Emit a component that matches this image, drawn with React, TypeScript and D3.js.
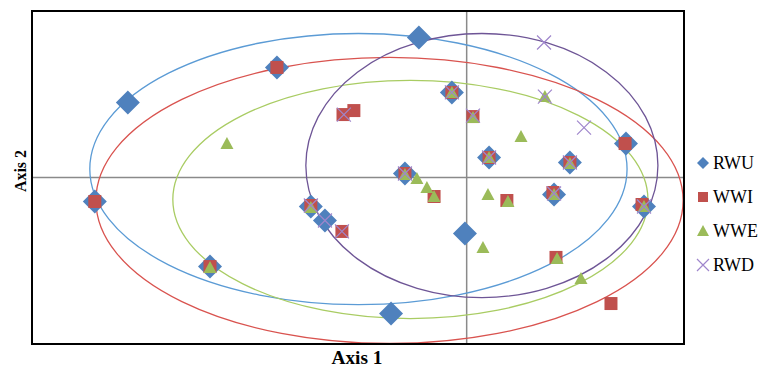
import * as d3 from 'd3';

const W = 772;
const H = 367;

// scores (axis 1, axis 2)
const rwuX = [-0.22, -0.873, -1.559, -0.068, 0.103, -0.284, 0.475, 0.733, -1.711, -0.717, -0.652, -1.181, -0.008, -0.348, 0.402, 0.816];
const rwuY = [0.841, 0.661, 0.45, 0.511, 0.12, 0.024, 0.09, 0.204, -0.144, -0.174, -0.258, -0.535, -0.336, -0.817, -0.102, -0.174];

const wwiX = [-0.873, -0.569, -0.519, -0.068, 0.029, 0.103, -0.284, 0.475, 0.729, -1.711, -0.717, -0.574, -1.181, -0.15, 0.185, 0.397, 0.807, 0.411, 0.664];
const wwiY = [0.661, 0.378, 0.402, 0.511, 0.366, 0.12, 0.024, 0.09, 0.204, -0.144, -0.168, -0.324, -0.535, -0.114, -0.138, -0.09, -0.162, -0.48, -0.757];

const wweX = [-1.103, -0.068, 0.029, 0.36, 0.25, 0.103, 0.475, -0.284, -0.229, -0.183, -0.15, 0.098, 0.19, -0.717, -1.181, 0.075, 0.402, 0.816, 0.416, 0.526];
const wweY = [0.204, 0.511, 0.36, 0.486, 0.246, 0.12, 0.084, 0.018, -0.006, -0.06, -0.114, -0.102, -0.144, -0.18, -0.541, -0.42, -0.102, -0.174, -0.486, -0.607];

const rwdX = [0.356, 0.36, 0.54, -0.565, -0.068, 0.029, 0.103, -0.284, 0.475, -0.717, -0.652, -0.574, 0.402, 0.816];
const rwdY = [0.811, 0.486, 0.3, 0.378, 0.511, 0.372, 0.12, 0.024, 0.09, -0.168, -0.258, -0.324, -0.096, -0.174];

// confidence ellipses: centre x, centre y, radius x, radius y
const ellipseNames = ['RWU', 'WWI', 'WWE', 'RWD'];
const ellipseCx = [-0.498, -0.355, -0.259, 0.07];
const ellipseCy = [0.051, -0.138, -0.132, 0.072];
const ellipseRx = [1.236, 1.351, 1.093, 0.81];
const ellipseRy = [0.814, 0.859, 0.715, 0.793];
const ellipseColors = ['#5B9BD5', '#D9534F', '#A9CC63', '#6E5596'];

const seriesNames = ['RWU', 'WWI', 'WWE', 'RWD'];

const diamond = (r: number) => `M0,${-r}L${r},0L0,${r}L${-r},0Z`;
const square = (r: number) => `M${-r},${-r}H${r}V${r}H${-r}Z`;
const triangle = (r: number) => `M0,${-r}L${r},${r * 0.85}L${-r},${r * 0.85}Z`;
const cross = (r: number) => `M${-r},${-r}L${r},${r}M${r},${-r}L${-r},${r}`;

const markerStyle = [
  { path: diamond, size: 12, legendSize: 6, fill: '#4F81BD', stroke: 'none' },
  { path: square, size: 6.5, legendSize: 5, fill: '#C0504D', stroke: 'none' },
  { path: triangle, size: 6.5, legendSize: 6, fill: '#9BBB59', stroke: 'none' },
  { path: cross, size: 7, legendSize: 6, fill: 'none', stroke: '#9F86CC' },
];

export default function App() {
  const left = 32;
  const right = 684;
  const top = 11;
  const bottom = 344;

  const x = d3.scaleLinear().domain([-2, 1]).range([left, right]);
  const y = d3.scaleLinear().domain([-1, 1]).range([bottom, top]);

  const series = [
    d3.zip(rwuX, rwuY),
    d3.zip(wwiX, wwiY),
    d3.zip(wweX, wweY),
    d3.zip(rwdX, rwdY),
  ];

  return (
    <svg
      width={W}
      height={H}
      style={{ position: 'absolute', left: 0, top: 0, background: '#fff' }}
      fontFamily="'Liberation Serif', 'Times New Roman', serif"
    >
      <defs>
        <clipPath id="plot">
          <rect x={left} y={top} width={right - left} height={bottom - top} />
        </clipPath>
      </defs>

      {/* zero lines */}
      <line x1={left} x2={right} y1={y(0)} y2={y(0)} stroke="#8A8A8A" strokeWidth={1.5} />
      <line x1={x(0)} x2={x(0)} y1={top} y2={bottom} stroke="#8A8A8A" strokeWidth={1.5} />

      {/* ellipses */}
      <g clipPath="url(#plot)">
        {ellipseNames.map((n, i) => (
          <ellipse
            key={n}
            cx={x(ellipseCx[i])}
            cy={y(ellipseCy[i])}
            rx={x(ellipseCx[i] + ellipseRx[i]) - x(ellipseCx[i])}
            ry={y(ellipseCy[i]) - y(ellipseCy[i] + ellipseRy[i])}
            fill="none"
            stroke={ellipseColors[i]}
            strokeWidth={1.3}
          />
        ))}
      </g>

      {/* points */}
      {series.map((pts, si) => (
        <g key={seriesNames[si]}>
          {pts.map(([px, py], j) => (
            <path
              key={j}
              transform={`translate(${x(px)},${y(py)})`}
              d={markerStyle[si].path(markerStyle[si].size)}
              fill={markerStyle[si].fill}
              stroke={markerStyle[si].stroke}
              strokeWidth={1.2}
            />
          ))}
        </g>
      ))}

      {/* plot frame */}
      <rect x={left} y={top} width={right - left} height={bottom - top} fill="none" stroke="#000" strokeWidth={2} />

      {/* axis titles */}
      <text
        x={357}
        y={364}
        textAnchor="middle"
        fontSize={18}
        fontWeight="bold"
        fill="#000"
        textLength={51}
        lengthAdjust="spacingAndGlyphs"
      >
        Axis 1
      </text>
      <text
        transform="translate(26,171) rotate(-90)"
        textAnchor="middle"
        fontSize={17}
        fontWeight="bold"
        fill="#000"
        textLength={42}
        lengthAdjust="spacingAndGlyphs"
      >
        Axis 2
      </text>

      {/* legend */}
      {seriesNames.map((n, i) => (
        <g key={n} transform={`translate(703,${163 + i * 34})`}>
          <path
            d={markerStyle[i].path(markerStyle[i].legendSize)}
            fill={markerStyle[i].fill}
            stroke={markerStyle[i].stroke}
            strokeWidth={1.2}
          />
          <text x={10} y={6} fontSize={18} fill="#000">
            {n}
          </text>
        </g>
      ))}
    </svg>
  );
}
